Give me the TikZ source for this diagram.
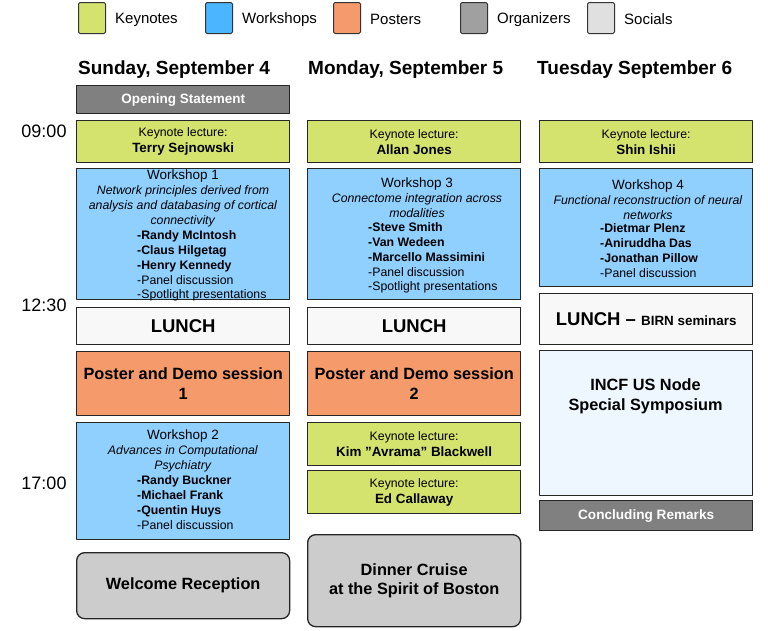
\documentclass[tikz,border=0pt]{standalone}
\usepackage{fontspec}
\setmainfont{Liberation Sans}
\definecolor{keyc}{RGB}{212,226,110}
\definecolor{wsleg}{RGB}{74,182,255}
\definecolor{wsc}{RGB}{143,208,255}
\definecolor{posc}{RGB}{245,154,107}
\definecolor{orgleg}{RGB}{160,160,160}
\definecolor{orgc}{RGB}{128,128,128}
\definecolor{socleg}{RGB}{224,224,224}
\definecolor{socc}{RGB}{204,204,204}
\definecolor{lunchc}{RGB}{248,248,248}
\definecolor{incfc}{RGB}{238,247,255}
\newcommand\fsz[2]{\fontsize{#1pt}{#2pt}\selectfont}
\newcommand\keynote[1]{Keynote lecture:\\\fsz{13.4}{16}\bfseries #1}
\begin{document}
\begin{tikzpicture}[x=1pt,y=-1pt,line join=round,
	box/.style={draw=black!85,line width=1.3pt,anchor=north west,inner sep=0pt,
		minimum width=213pt,align=center,text=black},
	keybox/.style={box,fill=keyc,minimum height=42pt,font=\fsz{12.3}{16}},
	wsbox/.style={box,fill=wsc},
	posbox/.style={box,fill=posc,minimum height=64pt,font=\fsz{16.3}{20}\bfseries},
	lunchbox/.style={box,fill=lunchc,font=\fsz{18.5}{20}\bfseries},
	orgbox/.style={box,fill=orgc,text=white,font=\fsz{13.5}{15}\bfseries},
	socbox/.style={box,fill=socc,rounded corners=8pt,font=\fsz{16.3}{19.5}\bfseries},
	wtitle/.style={anchor=north,inner sep=0pt,align=center,font=\fsz{12.3}{14.8}},
	wlist/.style={anchor=north west,inner sep=0pt,align=left,font=\fsz{12.3}{14.8}},
	legsq/.style={draw=black!80,line width=1pt,rounded corners=1.5pt,minimum width=27pt,
		minimum height=31pt,inner sep=0pt,anchor=north west},
	legtxt/.style={anchor=west,inner sep=0pt,font=\fsz{15}{17}},
	day/.style={anchor=west,inner sep=0pt,font=\fsz{19}{21}\bfseries},
	time/.style={inner sep=0pt,font=\fsz{18}{20}}]
	\useasboundingbox (0,0) rectangle (768,630);
	% legend
	\foreach \x/\c/\t in {78/keyc/Keynotes,205/wsleg/Workshops,333/posc/Posters,460/orgleg/Organizers,587/socleg/Socials}{
		\node[legsq,fill=\c] (sq\t) at (\x,2) {};
		\node[legtxt] (lg\t) at (\x+37,19.5) {\t};
	}
	% days and times
	\node[day] (d1) at (78,69.5) {Sunday, September 4};
	\node[day] (d2) at (308,69.5) {Monday, September 5};
	\node[day] (d3) at (537,69.5) {Tuesday September 6};
	\node[time] (t1) at (44,131) {09:00};
	\node[time] (t2) at (44,305) {12:30};
	\node[time] (t3) at (44,483) {17:00};
	% sunday
	\node[orgbox,minimum height=28pt] (open) at (76,85) {Opening Statement};
	\node[keybox] (k1) at (76,120) {\keynote{Terry Sejnowski}};
	\node[wsbox,minimum height=131pt] (w1) at (76,168) {};
	\node[wtitle] (w1t) at (183,170) {\fsz{13.5}{14.8}Workshop 1\\\textit{Network principles derived from}\\
		\textit{analysis and databasing of cortical}\\\textit{connectivity}};
	\node[wlist] (w1l) at (137,230.5) {\textbf{-Randy McIntosh}\\\textbf{-Claus Hilgetag}\\
		\textbf{-Henry Kennedy}\\-Panel discussion\\-Spotlight presentations};
	\node[lunchbox,minimum height=37pt] (l1) at (76,307) {LUNCH};
	\node[posbox] (p1) at (76,351) {Poster and Demo session\\1};
	\node[wsbox,minimum height=117pt] (w2) at (76,422) {};
	\node[wtitle] (w2t) at (183,430) {\fsz{13.5}{14.8}Workshop 2\\\textit{Advances in Computational}\\\textit{Psychiatry}};
	\node[wlist] (w2l) at (137,475.5) {\textbf{-Randy Buckner}\\\textbf{-Michael Frank}\\
		\textbf{-Quentin Huys}\\-Panel discussion};
	\node[socbox,minimum height=66pt] (wr) at (76,552) {Welcome Reception};
	% monday
	\node[keybox] (k2) at (307,120) {\keynote{Allan Jones}};
	\node[wsbox,minimum height=131pt] (w3) at (307,168) {};
	\node[wtitle] (w3t) at (417,178) {\fsz{13.5}{14.8}Workshop 3\\\textit{Connectome integration across}\\\textit{modalities}};
	\node[wlist] (w3l) at (368,222.5) {\textbf{-Steve Smith}\\\textbf{-Van Wedeen}\\
		\textbf{-Marcello Massimini}\\-Panel discussion\\-Spotlight presentations};
	\node[lunchbox,minimum height=37pt] (l2) at (307,307) {LUNCH};
	\node[posbox] (p2) at (307,351) {Poster and Demo session\\2};
	\node[keybox,minimum height=43pt] (k3) at (307,422) {\keynote{Kim ”Avrama” Blackwell}};
	\node[keybox,minimum height=43pt] (k4) at (307,470) {\keynote{Ed Callaway}};
	\node[socbox,minimum height=92pt] (dc) at (307,534) {Dinner Cruise\\at the Spirit of Boston};
	% tuesday
	\node[keybox] (k5) at (539,120) {\keynote{Shin Ishii}};
	\node[wsbox,minimum height=118pt] (w4) at (539,168) {};
	\node[wtitle] (w4t) at (648,179.5) {\fsz{13.5}{14.8}Workshop 4\\\textit{Functional reconstruction of neural}\\\textit{networks}};
	\node[wlist] (w4l) at (600,223.5) {\textbf{-Dietmar Plenz}\\\textbf{-Aniruddha Das}\\
		\textbf{-Jonathan Pillow}\\-Panel discussion};
	\node[lunchbox,minimum height=51pt] (l3) at (539,293) {LUNCH -- {\fsz{13.4}{15}BIRN seminars}};
	\node[box,fill=incfc,minimum height=145pt] (incf) at (539,350) {};
	\node[inner sep=0pt,align=center,font=\fsz{16.3}{20}\bfseries] (incft) at (645.5,396) {INCF US Node\\Special Symposium};
	\node[orgbox,minimum height=30pt,font=\fsz{13.6}{15}\bfseries] (cr) at (539,500) {Concluding Remarks};
\end{tikzpicture}
\end{document}
